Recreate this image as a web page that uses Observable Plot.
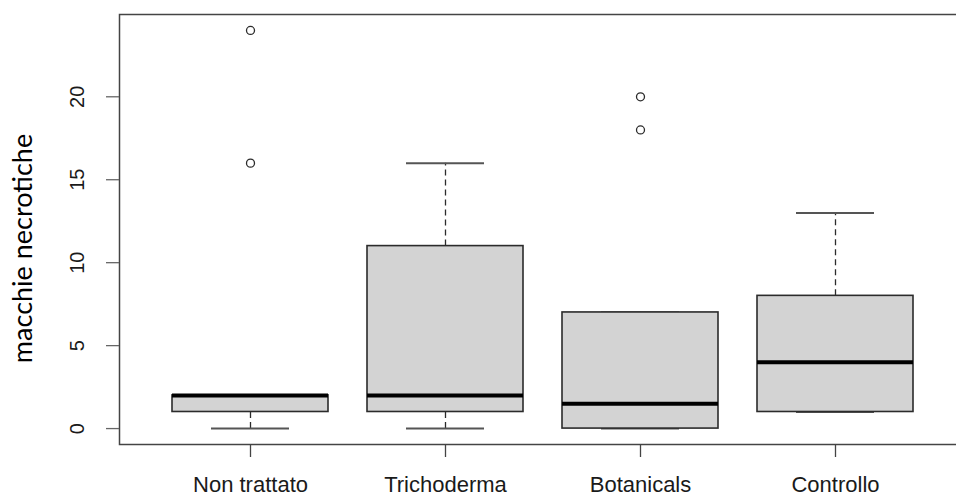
<!DOCTYPE html>
<html>
<head>
<meta charset="utf-8">
<script src="https://cdn.jsdelivr.net/npm/d3@7"></script>
<script src="https://cdn.jsdelivr.net/npm/@observablehq/plot@0.6"></script>
<style>
  html, body { margin: 0; padding: 0; background: #fff; }
  #chart svg { display: block; }
</style>
</head>
<body>
<div id="chart"></div>
<script>
const categories = ["Non trattato", "Trichoderma", "Botanicals", "Controllo"];
const lowerWhisker = [0, 0, 0, 1];
const q1 = [1, 1, 0, 1];
const median = [2, 2, 1.5, 4];
const q3 = [2, 11, 7, 8];
const upperWhisker = [2, 16, 7, 13];
const outlierGroup = ["Non trattato", "Non trattato", "Botanicals", "Botanicals"];
const outlierValue = [16, 24, 18, 20];
const yTicks = [0, 5, 10, 15, 20];
const yLabel = "macchie necrotiche";

const boxes = categories.map((c, i) => ({
  cat: c, lo: lowerWhisker[i], q1: q1[i], med: median[i], q3: q3[i], hi: upperWhisker[i]
}));
const outliers = outlierGroup.map((c, i) => ({ cat: c, v: outlierValue[i] }));

const ink = "#2b2b2b";

const chart = Plot.plot({
  width: 956,
  height: 497,
  marginLeft: 119,
  marginRight: -9,
  marginTop: 14,
  marginBottom: 53,
  style: { fontFamily: "'Liberation Sans', Arial, sans-serif", background: "#fff" },
  x: { type: "band", domain: categories, paddingInner: 0.2, paddingOuter: 0.26, label: null },
  y: { domain: [-0.96, 24.96], label: null },
  marks: [
    // whiskers (dashed)
    Plot.ruleX(boxes, { x: "cat", y1: "q3", y2: "hi", stroke: ink, strokeWidth: 1.3, strokeDasharray: "6,4" }),
    Plot.ruleX(boxes, { x: "cat", y1: "lo", y2: "q1", stroke: ink, strokeWidth: 1.3, strokeDasharray: "6,4" }),
    // whisker caps
    Plot.tickY(boxes, { x: "cat", y: "hi", stroke: "#555", strokeWidth: 2, insetLeft: 39, insetRight: 39 }),
    Plot.tickY(boxes, { x: "cat", y: "lo", stroke: "#555", strokeWidth: 2, insetLeft: 39, insetRight: 39 }),
    // boxes
    Plot.barY(boxes, { x: "cat", y1: "q1", y2: "q3", fill: "#d3d3d3", stroke: ink, strokeWidth: 1.6 }),
    // medians
    Plot.tickY(boxes, { x: "cat", y: "med", stroke: "#000", strokeWidth: 4 }),
    // outliers
    Plot.dot(outliers, { x: "cat", y: "v", r: 4, stroke: ink, strokeWidth: 1.3, fill: "none" }),
    // frame
    Plot.frame({ stroke: "#444", strokeWidth: 1.5 }),
    Plot.axisX({ tickSize: 13, tickPadding: 19, fontSize: 22, stroke: "#444", strokeWidth: 1.3, fill: "#1a1a1a", label: null }),
    Plot.axisY({ ticks: yTicks, tickSize: 13, tickRotate: -90, tickPadding: 23, fontSize: 20, stroke: "#666", strokeWidth: 1.3, fill: "#1a1a1a", label: null }),
    Plot.text([yLabel], { text: d => d, frameAnchor: "left", textAnchor: "middle", rotate: -90, dx: -96, dy: 19, fontSize: 27, fontFamily: "Lato, 'Noto Sans', sans-serif", fill: "#000" })
  ]
});

document.getElementById("chart").appendChild(chart);
</script>
</body>
</html>
